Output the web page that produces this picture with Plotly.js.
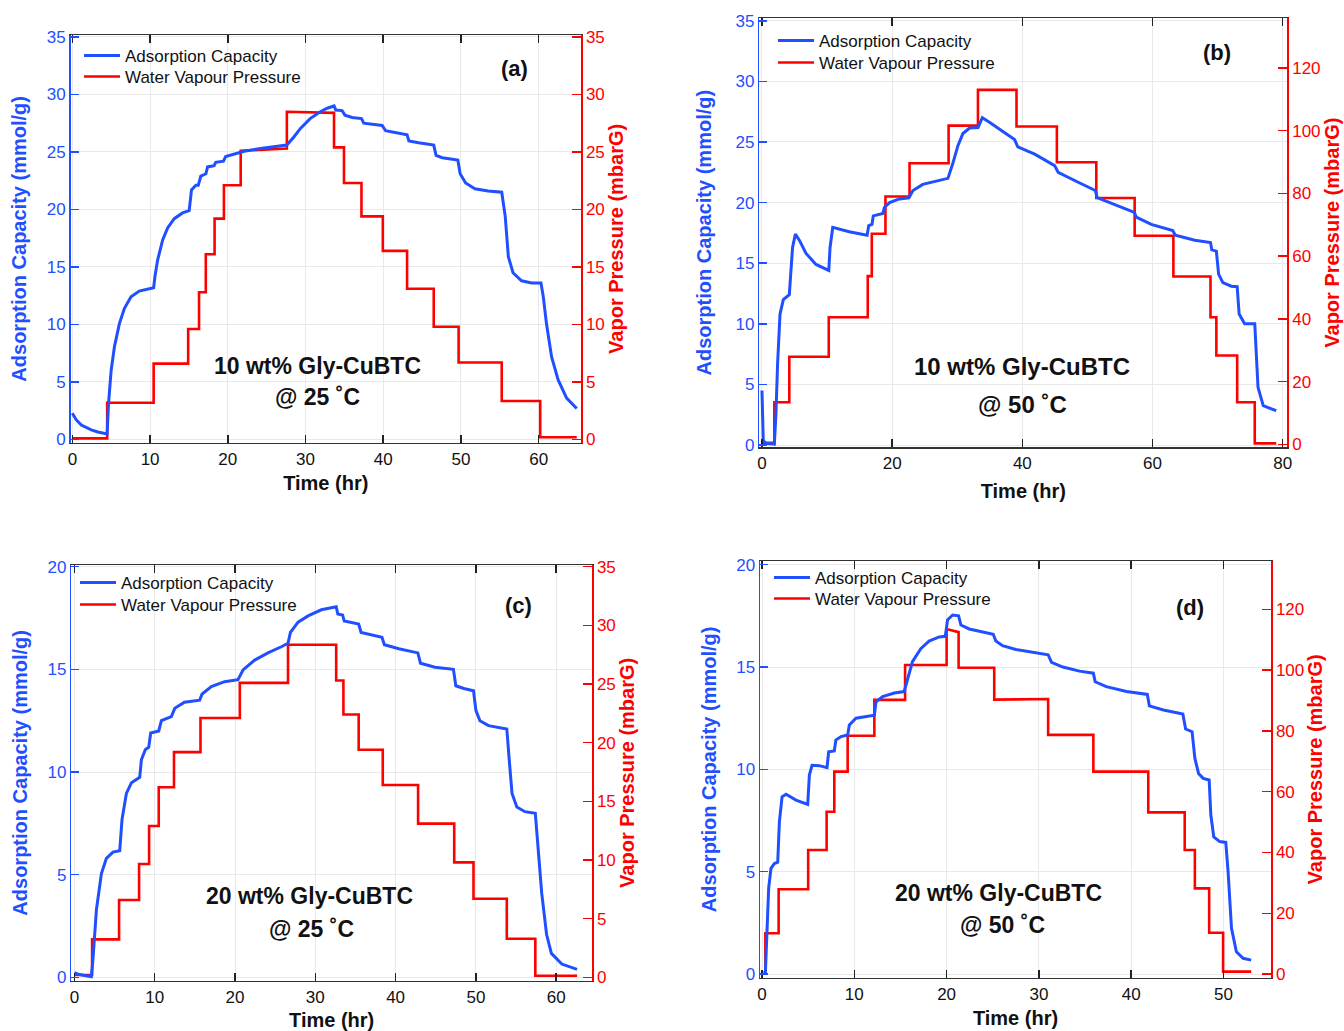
<!DOCTYPE html>
<html>
<head>
<meta charset="utf-8">
<script src="https://cdn.plot.ly/plotly-3.0.1.min.js"></script>
<style>html,body{margin:0;padding:0;background:#fff;} #chart{width:1344px;height:1031px;}</style>
</head>
<body>
<div id="chart"></div>
<script>
// ---------- DATA ----------
// Panel (a): 10 wt% Gly-CuBTC @ 25 °C
const a_ads_t = [0, 0.5, 1.15, 1.8, 2.43, 3.28, 4.14, 4.47, 4.65, 4.99, 5.42, 6.06, 6.7, 7.55, 8.6, 9.69, 10.46, 10.63, 10.97, 11.62, 12.26, 13.11, 14.18, 15.03, 15.33, 15.89, 16.2, 16.53, 17.18, 17.4, 18.24, 18.45, 19.44, 19.73, 20.8, 22.1, 24.2, 26.36, 27.6, 28.5, 29.35, 30.6, 31.9, 32.8, 33.67, 33.9, 34.7, 35.07, 36.0, 37.2, 37.5, 39.86, 40.3, 43.07, 43.3, 44.56, 46.5, 46.8, 47.6, 49.6, 49.9, 50.6, 51.8, 53.5, 55.25, 55.7, 56.1, 56.7, 57.8, 59.1, 60.3, 60.6, 61.0, 61.66, 62.5, 63.6, 64.9];
const a_ads   = [2.28, 1.7, 1.26, 1.03, 0.83, 0.65, 0.54, 0.48, 3.1, 6.0, 8.1, 10.1, 11.4, 12.4, 12.9, 13.1, 13.2, 14.2, 15.6, 17.35, 18.4, 19.2, 19.7, 19.9, 21.7, 22.1, 22.1, 22.9, 23.1, 23.7, 23.8, 24.1, 24.2, 24.6, 24.8, 25.06, 25.3, 25.5, 25.6, 26.3, 27.05, 27.9, 28.5, 28.8, 29.0, 28.65, 28.6, 28.2, 28.0, 27.9, 27.5, 27.3, 26.85, 26.5, 25.96, 25.8, 25.6, 24.7, 24.5, 24.3, 23.1, 22.3, 21.8, 21.6, 21.5, 19.4, 15.9, 14.5, 13.8, 13.6, 13.6, 12.4, 10.1, 7.2, 5.2, 3.6, 2.7];
const a_vp_t  = [0, 4.48, 4.48, 10.46, 10.46, 14.9, 14.9, 16.3, 16.3, 17.17, 17.17, 18.3, 18.3, 19.5, 19.5, 21.66, 21.66, 27.6, 27.6, 33.67, 33.67, 34.95, 34.95, 37.2, 37.2, 39.95, 39.95, 43.07, 43.07, 46.5, 46.5, 49.7, 49.7, 55.25, 55.25, 60.2, 60.2, 64.9];
const a_vp    = [0.1, 0.1, 3.2, 3.2, 6.6, 6.6, 9.6, 9.6, 12.8, 12.8, 16.1, 16.1, 19.2, 19.2, 22.1, 22.1, 25.1, 25.3, 28.5, 28.4, 25.4, 25.4, 22.3, 22.3, 19.4, 19.4, 16.4, 16.4, 13.1, 13.1, 9.8, 9.8, 6.7, 6.7, 3.35, 3.35, 0.2, 0.2];

// Panel (b): 10 wt% Gly-CuBTC @ 50 °C
const b_ads_t = [0, 0.2, 0.6, 1.9, 2.15, 2.4, 2.77, 3.28, 4.2, 4.36, 4.7, 5.13, 5.74, 6.77, 8.3, 10.26, 10.46, 10.87, 13.4, 16.15, 16.4, 16.9, 17.1, 18.56, 18.8, 19.6, 21.1, 22.56, 23.2, 24.7, 26.8, 28.56, 29.3, 30.1, 30.87, 31.9, 33.2, 33.85, 35.0, 37.0, 38.8, 39.3, 41.9, 44.96, 45.5, 48.5, 51.2, 51.5, 54.7, 57.2, 57.5, 59.8, 63.1, 63.5, 66.5, 68.9, 69.1, 69.8, 70.15, 70.8, 72.1, 73.0, 73.3, 74.15, 75.7, 75.9, 76.2, 77.0, 79.0];
const b_ads   = [4.5, 0.36, 0.14, 0.08, 2.6, 6.7, 10.8, 12.0, 12.4, 13.6, 16.3, 17.4, 16.9, 15.8, 14.9, 14.4, 16.3, 17.96, 17.6, 17.3, 18.1, 18.2, 18.9, 19.1, 19.6, 20.0, 20.3, 20.4, 21.0, 21.5, 21.8, 22.0, 23.2, 24.7, 25.7, 26.15, 26.2, 27.0, 26.6, 25.9, 25.2, 24.6, 24.0, 23.05, 22.5, 21.7, 21.0, 20.4, 19.75, 19.2, 18.8, 18.2, 17.7, 17.3, 16.9, 16.7, 16.1, 16.0, 14.1, 13.4, 13.1, 13.06, 10.8, 10.0, 10.0, 8.06, 4.76, 3.25, 2.83];
const b_vp_t  = [0, 1.9, 1.9, 4.2, 4.2, 10.26, 10.26, 16.25, 16.25, 16.87, 16.87, 18.97, 18.97, 22.67, 22.67, 28.67, 28.67, 33.18, 33.18, 39.1, 39.1, 45.3, 45.3, 51.36, 51.36, 57.25, 57.25, 63.2, 63.2, 68.9, 68.9, 69.8, 69.8, 73.0, 73.0, 75.7, 75.7, 79.0];
const b_vp    = [0.5, 0.5, 13.4, 13.4, 27.9, 27.9, 40.5, 40.5, 53.6, 53.6, 67.1, 67.1, 79.0, 79.0, 89.6, 89.6, 101.6, 101.6, 113.0, 113.0, 101.3, 101.3, 89.9, 89.9, 78.5, 78.5, 66.5, 66.5, 53.5, 53.5, 40.5, 40.5, 28.3, 28.3, 13.4, 13.4, 0.3, 0.3];

// Panel (c): 20 wt% Gly-CuBTC @ 25 °C
const c_ads_t = [0, 0.46, 2.1, 2.3, 2.74, 3.36, 3.98, 4.8, 5.64, 5.93, 6.47, 7.1, 8.13, 8.34, 8.84, 9.25, 9.5, 10.5, 10.83, 12.07, 12.5, 13.7, 15.6, 15.9, 17.05, 18.7, 20.37, 21.0, 22.45, 24.1, 25.77, 26.6, 26.9, 27.85, 29.1, 30.75, 32.6, 32.8, 33.4, 33.6, 35.4, 35.7, 38.3, 38.6, 40.4, 42.77, 43.1, 44.9, 47.2, 47.5, 48.5, 49.7, 50.0, 50.5, 51.57, 52.8, 53.85, 54.15, 54.5, 55.1, 56.1, 57.4, 57.7, 58.2, 58.8, 59.4, 60.7, 62.6];
const c_ads   = [0.23, 0.15, 0.03, 0.84, 3.3, 5.06, 5.8, 6.1, 6.17, 7.7, 8.96, 9.48, 9.74, 10.6, 11.1, 11.2, 11.9, 12.0, 12.5, 12.7, 13.1, 13.4, 13.5, 13.8, 14.16, 14.4, 14.5, 14.97, 15.45, 15.8, 16.1, 16.27, 16.8, 17.3, 17.6, 17.9, 18.05, 17.7, 17.65, 17.35, 17.2, 16.8, 16.56, 16.2, 16.0, 15.8, 15.3, 15.1, 15.0, 14.2, 14.07, 13.96, 13.0, 12.5, 12.26, 12.16, 12.1, 10.6, 8.96, 8.3, 8.07, 7.99, 6.5, 4.09, 2.1, 1.17, 0.65, 0.39];
const c_vp_t  = [0, 2.2, 2.2, 5.56, 5.56, 8.05, 8.05, 9.3, 9.3, 10.5, 10.5, 12.4, 12.4, 15.7, 15.7, 20.6, 20.6, 26.6, 26.6, 32.6, 32.6, 33.5, 33.5, 35.4, 35.4, 38.4, 38.4, 42.8, 42.8, 47.3, 47.3, 49.7, 49.7, 53.85, 53.85, 57.4, 57.4, 62.6];
const c_vp    = [0.2, 0.2, 3.24, 3.24, 6.6, 6.6, 9.66, 9.66, 12.9, 12.9, 16.2, 16.2, 19.2, 19.2, 22.1, 22.1, 25.1, 25.1, 28.35, 28.35, 25.3, 25.3, 22.4, 22.4, 19.4, 19.4, 16.4, 16.4, 13.1, 13.1, 9.8, 9.8, 6.7, 6.7, 3.3, 3.3, 0.14, 0.14];

// Panel (d): 20 wt% Gly-CuBTC @ 50 °C
const d_ads_t = [0.36, 0.5, 0.72, 0.97, 1.34, 1.7, 1.88, 2.17, 2.6, 3.68, 4.95, 5.13, 5.42, 6.2, 7.04, 7.22, 7.83, 8.0, 8.56, 9.28, 9.46, 10.18, 11.26, 12.17, 12.35, 13.07, 14.33, 15.4, 15.8, 16.3, 17.2, 18.1, 19.2, 19.86, 20.1, 20.65, 21.3, 21.55, 22.45, 23.9, 25.05, 25.34, 26.06, 27.5, 29.03, 31.0, 31.37, 32.6, 34.4, 35.9, 36.1, 37.3, 39.5, 41.75, 41.97, 43.5, 45.6, 45.9, 46.6, 46.9, 47.3, 47.8, 48.45, 48.63, 48.95, 49.6, 50.25, 50.5, 50.87, 51.4, 52.13, 53.0];
const d_ads   = [0.03, 1.7, 4.2, 5.16, 5.4, 5.46, 7.44, 8.66, 8.78, 8.5, 8.29, 9.72, 10.2, 10.18, 10.08, 10.86, 10.9, 11.43, 11.6, 11.68, 12.17, 12.5, 12.6, 12.65, 13.3, 13.55, 13.73, 13.8, 14.45, 15.26, 15.9, 16.27, 16.47, 16.5, 17.3, 17.54, 17.5, 17.05, 16.86, 16.73, 16.6, 16.27, 16.04, 15.86, 15.75, 15.6, 15.23, 15.0, 14.8, 14.7, 14.28, 14.04, 13.8, 13.66, 13.1, 12.9, 12.7, 11.97, 11.84, 10.54, 9.8, 9.56, 9.48, 7.77, 6.7, 6.47, 6.43, 5.0, 2.23, 1.09, 0.77, 0.68];
const d_vp_t  = [0.15, 0.36, 0.36, 1.8, 1.8, 5.0, 5.0, 7.0, 7.0, 7.83, 7.83, 9.28, 9.28, 12.17, 12.17, 15.5, 15.5, 20.0, 20.0, 21.3, 21.3, 25.16, 25.16, 31.0, 31.0, 35.9, 35.9, 41.85, 41.85, 45.8, 45.8, 46.9, 46.9, 48.45, 48.45, 49.96, 49.96, 53.0];
const d_vp    = [0.5, 0.5, 13.4, 13.4, 27.9, 27.9, 40.8, 40.8, 53.4, 53.4, 66.6, 66.6, 78.4, 78.4, 90.2, 90.2, 101.7, 101.7, 113.5, 112.5, 100.8, 100.8, 90.3, 90.5, 78.7, 78.7, 66.6, 66.6, 53.2, 53.2, 40.8, 40.8, 28.2, 28.2, 13.6, 13.6, 0.8, 0.8];

const seriesNames = ['Adsorption Capacity', 'Water Vapour Pressure'];
const panelLabels = ['(a)', '(b)', '(c)', '(d)'];
const panelLine1  = ['10 wt% Gly-CuBTC', '10 wt% Gly-CuBTC', '20 wt% Gly-CuBTC', '20 wt% Gly-CuBTC'];
const panelLine2  = ['@ 25 ˚C', '@ 50 ˚C', '@ 25 ˚C', '@ 50 ˚C'];
const xTitle = 'Time (hr)';
const yLeftTitle = 'Adsorption Capacity (mmol/g)';
const yRightTitle = 'Vapor Pressure (mbarG)';

// ---------- STYLE / LAYOUT ----------
const W = 1344, H = 1031;
const FONT = 'Liberation Sans, Arial, Helvetica, sans-serif';
const BLUE = '#1f4fff', RED = '#ff0000', DARK = '#111111', GRID = '#e9e9e9';
const dx = p => p / W;
const dy = p => 1 - p / H;

const panels = [
  {ads_t:a_ads_t, ads:a_ads, vp_t:a_vp_t, vp:a_vp, box:[70.5,581,35,442.7], xr:[-0.24,65.45], xd:10, yl:[-0.28,35.17], ylD:5, yr:[-0.28,35.17], yrD:5,
   legX:79, legY:[38,59], t1:[317,366], t2:[317,397], lab:[514,68], fs:23, xso:8, ylso:14, yrso:2},
  {ads_t:b_ads_t, ads:b_ads, vp_t:b_vp_t, vp:b_vp, box:[759.3,1287.3,18,447.3], xr:[-0.41,80.7], xd:20, yl:[-0.19,35.23], ylD:5, yr:[-0.96,135.9], yrD:20,
   legX:773, legY:[23,45], t1:[1022,366], t2:[1022,404], lab:[1217,53], fs:24, xso:12, ylso:18, yrso:4},
  {ads_t:c_ads_t, ads:c_ads, vp_t:c_vp_t, vp:c_vp, box:[71.3,592,565,980.7], xr:[-0.39,64.46], xd:10, yl:[-0.16,20.08], ylD:5, yr:[-0.28,35.14], yrD:5,
   legX:75, legY:[565,587], t1:[309,896], t2:[311,929], lab:[518,605], fs:23, xso:8, ylso:14, yrso:2},
  {ads_t:d_ads_t, ads:d_ads, vp_t:d_vp_t, vp:d_vp, box:[760,1271,561,977.7], xr:[-0.22,55.15], xd:10, yl:[-0.18,20.18], ylD:5, yr:[-1.2,135.9], yrD:20,
   legX:769, legY:[560,581], t1:[998,893], t2:[1002,925], lab:[1190,607], fs:23, xso:8, ylso:14, yrso:4}
];

const data = [];
const layout = {
  width: W, height: H,
  margin: {l:0, r:0, t:0, b:0},
  paper_bgcolor: '#ffffff', plot_bgcolor: '#ffffff',
  font: {family: FONT, color: DARK},
  showlegend: true,
  annotations: []
};

const boldFont = (size, color) => ({family: FONT, size: size, color: color, weight: 700});

panels.forEach((p, i) => {
  const xn = i === 0 ? 'x' : 'x' + (i + 1);
  const yRn = i === 0 ? 'y' : 'y' + (2 * i + 1);      // red right (base)
  const yLn = 'y' + (2 * i + 2);                       // blue left (overlay)
  const legA = i === 0 ? 'legend' : 'legend' + (2 * i + 1);
  const legB = 'legend' + (2 * i + 2);
  const [L, R, T, B] = p.box;

  data.push({
    type: 'scatter', mode: 'lines', name: seriesNames[0],
    x: p.ads_t, y: p.ads, xaxis: xn, yaxis: yLn, legend: legA,
    line: {color: BLUE, width: 3}
  });
  data.push({
    type: 'scatter', mode: 'lines', name: seriesNames[1],
    x: p.vp_t, y: p.vp, xaxis: xn, yaxis: yRn, legend: legB,
    line: {color: RED, width: 2.6}
  });

  layout[xn.replace('x', 'xaxis')] = {
    domain: [dx(L), dx(R)], range: p.xr, anchor: yRn,
    tick0: 0, dtick: p.xd, showline: true, linecolor: '#333', linewidth: 1.5,
    mirror: 'ticks', ticks: 'inside', ticklen: 8, tickwidth: 1.5, tickcolor: '#222',
    showgrid: true, gridcolor: GRID, gridwidth: 1, zeroline: false,
    tickfont: {family: FONT, size: 17, color: DARK},
    title: {text: xTitle, font: boldFont(20, DARK), standoff: p.xso}
  };
  layout[yRn.replace('y', 'yaxis')] = {
    domain: [dy(B), dy(T)], range: p.yr, anchor: xn, side: 'right',
    tick0: 0, dtick: p.yrD, showline: true, linecolor: RED, linewidth: 1.5,
    ticks: 'inside', ticklen: 9, tickwidth: 1.5, tickcolor: RED,
    showgrid: false, zeroline: false,
    tickfont: {family: FONT, size: 17, color: RED},
    title: {text: yRightTitle, font: boldFont(20, RED), standoff: p.yrso}
  };
  layout[yLn.replace('y', 'yaxis')] = {
    overlaying: yRn, range: p.yl, anchor: xn, side: 'left',
    tick0: 0, dtick: p.ylD, showline: true, linecolor: BLUE, linewidth: 1.5,
    ticks: 'inside', ticklen: 8, tickwidth: 1.5, tickcolor: BLUE,
    showgrid: true, gridcolor: GRID, gridwidth: 1, zeroline: false,
    tickfont: {family: FONT, size: 17, color: BLUE},
    title: {text: yLeftTitle, font: boldFont(20, BLUE), standoff: p.ylso}
  };
  [legA, legB].forEach((ln, k) => {
    layout[ln] = {
      x: dx(p.legX), y: dy(p.legY[k]), xanchor: 'left', yanchor: 'top',
      bgcolor: 'rgba(0,0,0,0)', borderwidth: 0, itemwidth: 36,
      font: {family: FONT, size: 17, color: DARK}
    };
  });
  const ann = (txt, pos, size) => ({
    text: txt, xref: 'paper', yref: 'paper', x: dx(pos[0]), y: dy(pos[1]),
    xanchor: 'center', yanchor: 'middle', showarrow: false,
    font: boldFont(size, DARK)
  });
  layout.annotations.push(ann(panelLine1[i], p.t1, p.fs));
  layout.annotations.push(ann(panelLine2[i], p.t2, p.fs));
  layout.annotations.push(ann(panelLabels[i], p.lab, 22));
});

Plotly.newPlot('chart', data, layout, {displayModeBar: false, staticPlot: true});
</script>
</body>
</html>
